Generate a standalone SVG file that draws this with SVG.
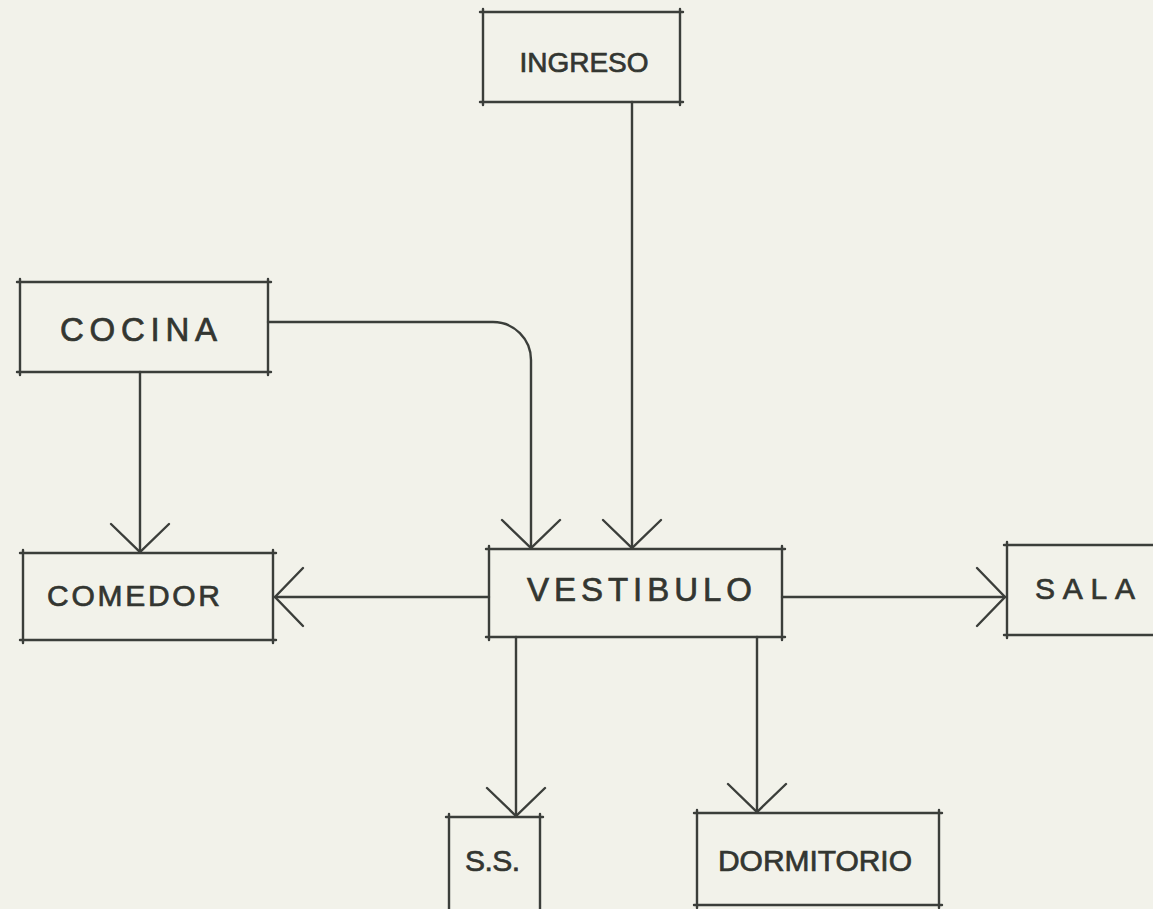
<svg xmlns="http://www.w3.org/2000/svg" width="1153" height="909" viewBox="0 0 1153 909">
<style>
.bg{fill:#f2f2ea}
.box{fill:none;stroke:#3b3e3a;stroke-width:2.4;stroke-linecap:round}
.lbl{font-family:"Liberation Sans",Arial,sans-serif;font-size:30px;fill:#333631;stroke:#333631;stroke-width:0.7}
.big{font-size:33px}
.con{fill:none;stroke:#3b3e3a;stroke-width:2.4;stroke-linecap:round}
</style>
<defs>
<marker id="v" markerUnits="userSpaceOnUse" viewBox="-34 -34 42 68" markerWidth="42" markerHeight="68" refX="0" refY="0" orient="auto">
<path d="M-28,-29 L0,0 L-28,29" fill="none" stroke="#3b3e3a" stroke-width="2.4" stroke-linecap="round"/>
</marker>
</defs>
<rect class="bg" x="0" y="0" width="1153" height="909"/>
<g id="connectors">
<path class="con" d="M632,102 V548" marker-end="url(#v)"/>
<path class="con" d="M268,322 H493 A38,38 0 0 1 531,360 V548" marker-end="url(#v)"/>
<path class="con" d="M140,372 V552" marker-end="url(#v)"/>
<path class="con" d="M489,597 H275" marker-end="url(#v)"/>
<path class="con" d="M782,597 H1005" marker-end="url(#v)"/>
<path class="con" d="M516,637 V816" marker-end="url(#v)"/>
<path class="con" d="M757,637 V812" marker-end="url(#v)"/>
</g>
<g id="ingreso">
<path class="box" d="M480,12 H683 M480,102 H683 M483,9 V105 M680,9 V105"/>
<text class="lbl" x="584" y="72" text-anchor="middle" style="font-size:28px">INGRESO</text>
</g>
<g id="cocina">
<path class="box" d="M17,282 H271 M17,372 H271 M20,279 V375 M268,279 V375"/>
<text class="lbl big" x="60" y="341" textLength="157" lengthAdjust="spacing">COCINA</text>
</g>
<g id="comedor">
<path class="box" d="M20,553 H276 M20,640 H276 M23,550 V643 M273,550 V643"/>
<text class="lbl" x="47" y="606" textLength="173" lengthAdjust="spacing">COMEDOR</text>
</g>
<g id="vestibulo">
<path class="box" d="M486,549 H785 M486,637 H785 M489,546 V640 M782,546 V640"/>
<text class="lbl big" x="527" y="601" textLength="225" lengthAdjust="spacing">VESTIBULO</text>
</g>
<g id="sala">
<path class="box" d="M1004,545 H1160 M1004,635 H1160 M1007,542 V638"/>
<text class="lbl" x="1035" y="599" textLength="100" lengthAdjust="spacing">SALA</text>
</g>
<g id="ss">
<path class="box" d="M446,817 H543 M449,814 V915 M540,814 V915"/>
<text class="lbl" x="465" y="871" textLength="55" lengthAdjust="spacing">S.S.</text>
</g>
<g id="dormitorio">
<path class="box" d="M694,813 H942 M694,905 H942 M697,810 V908 M939,810 V908"/>
<text class="lbl" x="718" y="871" textLength="194" lengthAdjust="spacing">DORMITORIO</text>
</g>
</svg>
